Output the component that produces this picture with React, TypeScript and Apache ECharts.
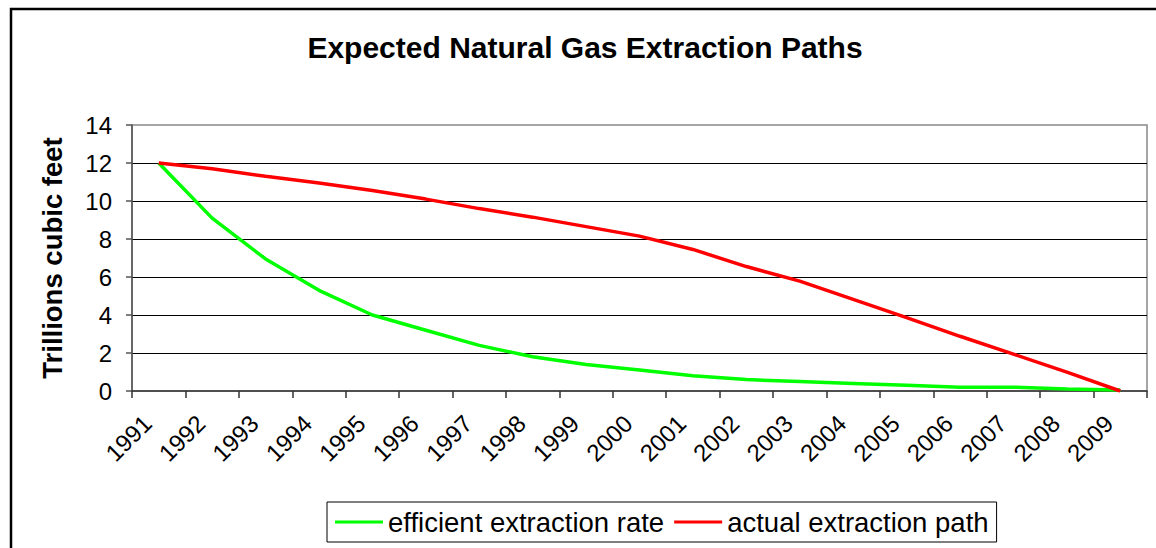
import React, { useEffect, useRef } from "react";
import * as echarts from "echarts";

const years = ["1991","1992","1993","1994","1995","1996","1997","1998","1999","2000","2001","2002","2003","2004","2005","2006","2007","2008","2009"];
const efficientRate = [12, 9.1, 6.95, 5.3, 4.0, 3.2, 2.4, 1.8, 1.4, 1.1, 0.8, 0.6, 0.5, 0.4, 0.3, 0.2, 0.2, 0.1, 0.05];
const actualPath = [12, 11.7, 11.3, 10.95, 10.55, 10.1, 9.6, 9.15, 8.65, 8.15, 7.45, 6.55, 5.78, 4.82, 3.86, 2.88, 1.94, 0.99, 0];
const seriesNames = ["efficient extraction rate", "actual extraction path"];
const titleText = "Expected Natural Gas Extraction Paths";
const yAxisTitle = "Trillions cubic feet";

const FONT = '"Liberation Sans", Arial, sans-serif';

export default function App() {
  const ref = useRef<HTMLDivElement>(null);
  useEffect(() => {
    if (!ref.current) return;
    const chart = echarts.init(ref.current, null, { renderer: "svg" });
    chart.setOption({
      animation: false,
      backgroundColor: "#fff",
      textStyle: { fontFamily: FONT, color: "#000" },
      graphic: [
        {
          type: "rect",
          shape: { x: 11, y: 9, width: 1300, height: 700 },
          style: { fill: "none", stroke: "#000", lineWidth: 2.5 },
          silent: true,
        },
        {
          type: "text",
          x: 585,
          y: 47,
          style: {
            text: titleText,
            font: `bold 30px ${FONT}`,
            fill: "#000",
            textAlign: "center",
            textVerticalAlign: "middle",
          },
        },
      ],
      grid: {
        left: 132,
        right: 9,
        top: 125,
        bottom: 157,
        show: true,
        borderColor: "#888",
        borderWidth: 1.5,
        backgroundColor: "transparent",
      },
      legend: {
        left: 327,
        top: 502,
        orient: "horizontal",
        data: seriesNames,
        borderColor: "#000",
        borderWidth: 1,
        padding: [6, 8, 6, 8],
        itemGap: 10,
        itemWidth: 48,
        itemHeight: 3,
        icon: "rect",
        textStyle: { fontSize: 27.5, color: "#000", fontFamily: FONT },
      },
      xAxis: {
        type: "category",
        data: years,
        boundaryGap: true,
        axisLine: { show: true, lineStyle: { color: "#333", width: 1.5 } },
        axisTick: { show: true, interval: 0, length: 7, lineStyle: { color: "#333", width: 1.5 } },
        axisLabel: {
          interval: 0,
          rotate: 45,
          fontSize: 24,
          color: "#000",
          margin: 17,
          padding: [0, 16, 0, 0],
          fontFamily: FONT,
        },
        splitLine: { show: false },
      },
      yAxis: {
        type: "value",
        min: 0,
        max: 14,
        interval: 2,
        name: yAxisTitle,
        nameLocation: "middle",
        nameGap: 66,
        nameTextStyle: { fontSize: 27.5, fontWeight: "bold", color: "#000", fontFamily: FONT },
        axisLine: { show: true, lineStyle: { color: "#555", width: 1.5 } },
        axisTick: { show: true, length: 6, lineStyle: { color: "#555", width: 1.5 } },
        axisLabel: { fontSize: 24, color: "#000", margin: 20, fontFamily: FONT },
        splitLine: { show: true, showMinLine: false, showMaxLine: false, lineStyle: { color: "#000", width: 1 } },
      },
      series: [
        {
          name: seriesNames[0],
          type: "line",
          data: efficientRate,
          symbol: "none",
          smooth: false,
          lineStyle: { color: "#00FF00", width: 3.5 },
          itemStyle: { color: "#00FF00" },
          z: 2,
        },
        {
          name: seriesNames[1],
          type: "line",
          data: actualPath,
          symbol: "none",
          smooth: false,
          lineStyle: { color: "#FF0000", width: 3.5 },
          itemStyle: { color: "#FF0000" },
          z: 3,
        },
      ],
    });
    return () => chart.dispose();
  }, []);
  return (
    <div
      ref={ref}
      style={{ position: "absolute", left: 0, top: 0, width: 1156, height: 548 }}
    />
  );
}
